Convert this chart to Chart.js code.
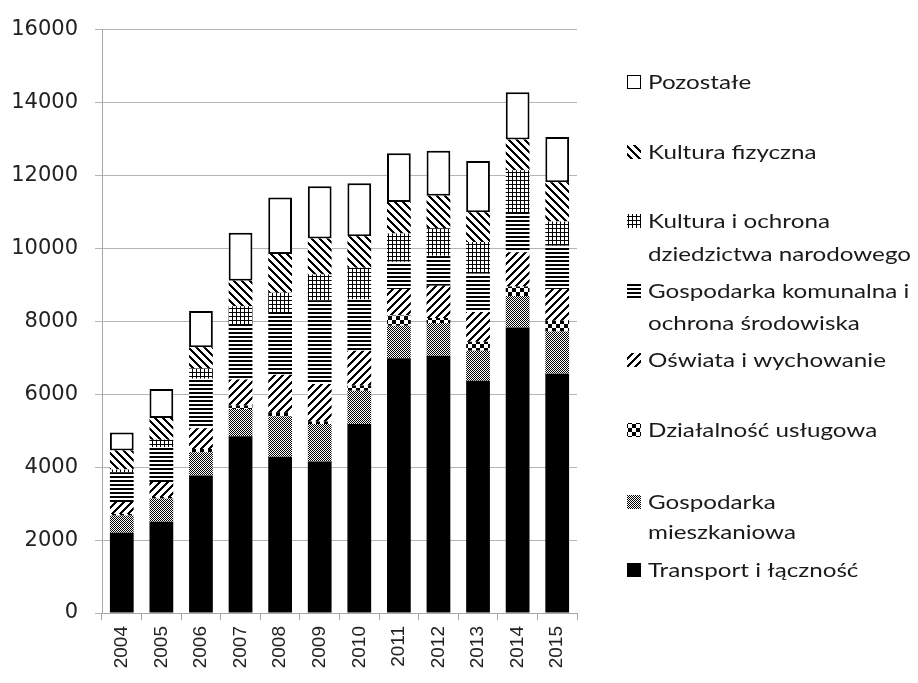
<!DOCTYPE html>
<html>
<head>
<meta charset="utf-8">
<script src="https://cdn.jsdelivr.net/npm/chart.js@4.4.1/dist/chart.umd.min.js"></script>
<style>
  html, body { margin: 0; padding: 0; background: #ffffff; }
  #wrap { width: 918px; height: 683px; position: relative; }
</style>
</head>
<body>
<div id="wrap"><canvas id="c" width="918" height="683"></canvas></div>
<script>
// ---- data ----
const years = ['2004','2005','2006','2007','2008','2009','2010','2011','2012','2013','2014','2015'];
const transport      = [2204, 2504, 3770, 4848, 4285, 4154, 5185, 6986, 7052, 6367, 7830, 6564];
const gospMieszk     = [468, 637, 637, 750, 1107, 1031, 910, 891, 900, 825, 862, 1153];
const uslugowa       = [40, 40, 93, 94, 112, 66, 141, 281, 140, 244, 263, 300];
const oswiata        = [335, 410, 564, 713, 1032, 1032, 956, 731, 882, 816, 938, 872];
const komunalna      = [798, 957, 1359, 1519, 1716, 2278, 1407, 741, 825, 1059, 1106, 1191];
const kulturaOchrona = [93, 206, 282, 487, 534, 722, 872, 778, 750, 863, 1144, 657];
const kulturaFiz     = [516, 591, 581, 703, 1060, 985, 862, 863, 891, 816, 844, 1078];
const pozostale      = [497, 797, 994, 1313, 1547, 1434, 1454, 1341, 1238, 1406, 1294, 1238];

const seriesNames = [
  'Transport i łączność',
  'Gospodarka mieszkaniowa',
  'Działalność usługowa',
  'Oświata i wychowanie',
  'Gospodarka komunalna i ochrona środowiska',
  'Kultura i ochrona dziedzictwa narodowego',
  'Kultura fizyczna',
  'Pozostałe'
];
// legend lines (as wrapped in the original)
const legendLines = [
  ['Transport i łączność'],
  ['Gospodarka', 'mieszkaniowa'],
  ['Działalność usługowa'],
  ['Oświata i wychowanie'],
  ['Gospodarka komunalna i', 'ochrona środowiska'],
  ['Kultura i ochrona', 'dziedzictwa narodowego'],
  ['Kultura fizyczna'],
  ['Pozostałe']
];

// ---- patterns ----
function makePattern(size, fn) {
  const cv = document.createElement('canvas');
  cv.width = size; cv.height = size;
  const cx = cv.getContext('2d');
  const img = cx.createImageData(size, size);
  for (let y = 0; y < size; y++) {
    for (let x = 0; x < size; x++) {
      const i = (y * size + x) * 4;
      const v = fn(x, y) ? 0 : 255;
      img.data[i] = v; img.data[i+1] = v; img.data[i+2] = v; img.data[i+3] = 255;
    }
  }
  cx.putImageData(img, 0, 0);
  return document.getElementById('c').getContext('2d').createPattern(cv, 'repeat');
}
const pSolid    = '#000000';
const pFine     = makePattern(2, (x, y) => (x + y) % 2 === 0);
const pChecker  = makePattern(8, (x, y) => (Math.floor(x / 4) + Math.floor(y / 4)) % 2 === 0);
const pDiagUp   = makePattern(8, (x, y) => ((x + y) % 8) < 3);
const pHoriz    = makePattern(4, (x, y) => (y % 4) < 2);
const pGrid     = makePattern(4, (x, y) => x % 4 === 0 || y % 4 === 0);
const pDiagDown = makePattern(8, (x, y) => (((x - y) % 8) + 8) % 8 < 3);
const pWhite    = '#ffffff';

const fills = [pSolid, pFine, pChecker, pDiagUp, pHoriz, pGrid, pDiagDown, pWhite];
const values = [transport, gospMieszk, uslugowa, oswiata, komunalna, kulturaOchrona, kulturaFiz, pozostale];

const datasets = values.map((v, i) => ({
  label: seriesNames[i],
  data: v,
  backgroundColor: fills[i],
  borderColor: '#000000',
  borderWidth: i === 7 ? 2 : 0,
  borderSkipped: false,
  barPercentage: 0.6,
  categoryPercentage: 1.0
}));

// ---- custom legend (multi-line labels) ----
const legendY = [
  [570],
  [502, 532],
  [430],
  [360],
  [291, 323],
  [221, 254],
  [152],
  [82]
];
const legendPlugin = {
  id: 'customLegend',
  afterDraw(chart) {
    const ctx = chart.ctx;
    ctx.save();
    ctx.font = '20px Lato';
    const k = 263 / ctx.measureText('dziedzictwa narodowego').width;
    chart.data.datasets.forEach((ds, i) => {
      const ys = legendY[i];
      const mx = 627, size = 14;
      const my = ys[0] - size / 2;
      ctx.fillStyle = ds.backgroundColor;
      ctx.fillRect(mx, my, size, size);
      if (i === 7) {
        ctx.strokeStyle = '#000';
        ctx.lineWidth = 1;
        ctx.strokeRect(mx + 0.5, my + 0.5, size - 1, size - 1);
      }
      ctx.fillStyle = '#1a1a1a';
      ctx.textBaseline = 'middle';
      ctx.textAlign = 'left';
      legendLines[i].forEach((line, j) => {
        ctx.save();
        ctx.translate(648, ys[j] + 1);
        ctx.scale(k, 1);
        ctx.fillText(line, 0, 0);
        ctx.restore();
      });
    });
    ctx.restore();
  }
};

const bgPlugin = {
  id: 'bg',
  beforeDraw(chart) {
    const ctx = chart.ctx;
    ctx.save();
    ctx.fillStyle = '#ffffff';
    ctx.fillRect(0, 0, chart.width, chart.height);
    ctx.restore();
  }
};

new Chart(document.getElementById('c'), {
  type: 'bar',
  data: { labels: years, datasets },
  options: {
    responsive: false,
    animation: false,
    devicePixelRatio: 1,
    layout: { padding: { top: 24, right: 341, left: 0, bottom: 0 } },
    plugins: { legend: { display: false }, tooltip: { enabled: false } },
    scales: {
      x: {
        stacked: true,
        offset: true,
        grid: { display: true, drawOnChartArea: false, drawTicks: true, tickLength: 7, color: '#a6a6a6', offset: true },
        border: { display: true, color: '#a6a6a6', width: 1 },
        ticks: {
          autoSkip: false, minRotation: 90, maxRotation: 90, padding: 6,
          color: '#222222', font: { family: 'Liberation Sans', size: 19 }
        },
        afterFit(scale) { scale.height = 70; }
      },
      y: {
        stacked: true,
        min: 0, max: 16000,
        grid: { color: '#b5b5b5', lineWidth: 1, drawTicks: true, tickLength: 7 },
        border: { display: true, color: '#a6a6a6', width: 1 },
        ticks: {
          stepSize: 2000, padding: 17, color: '#222222',
          font: { family: 'DejaVu Sans', size: 21 },
          callback: v => String(v)
        },
        afterFit(scale) { scale.width = 102; }
      }
    }
  },
  plugins: [bgPlugin, legendPlugin]
});
</script>
</body>
</html>
